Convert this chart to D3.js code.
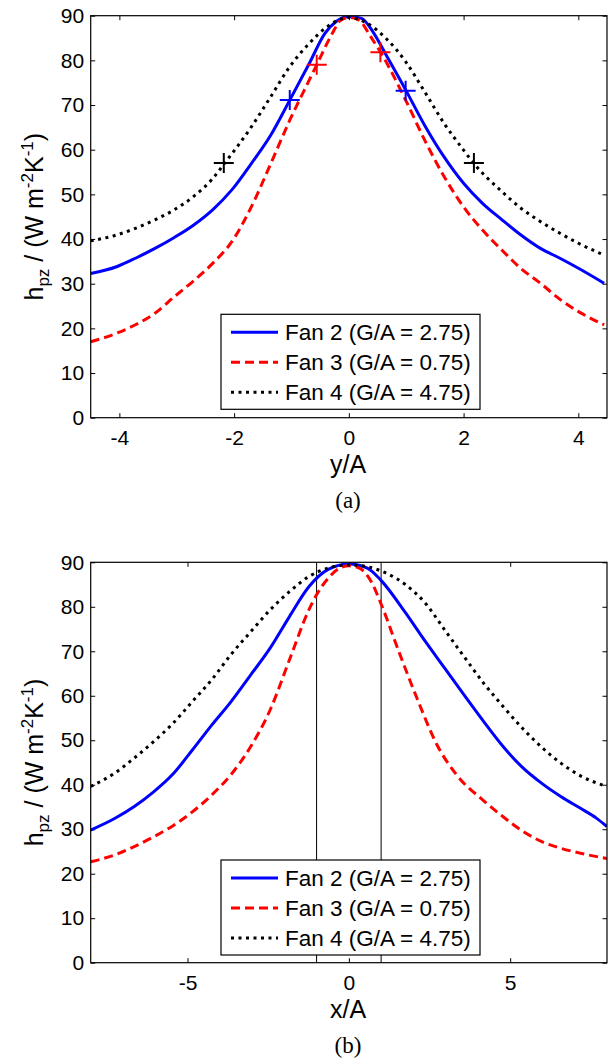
<!DOCTYPE html>
<html>
<head>
<meta charset="utf-8">
<script src="https://cdn.jsdelivr.net/npm/d3@7/dist/d3.min.js"></script>
<style>
  body { margin: 0; background: #fff; }
  text { font-family: "Liberation Sans", Arial, Helvetica, sans-serif; fill: #000; }
</style>
</head>
<body>
<svg id="chart"></svg>
<script>
const width = 608;
const height = 1064;

// tick values
const yTicks = [0, 10, 20, 30, 40, 50, 60, 70, 80, 90];
const aXTicks = [-4, -2, 0, 2, 4];
const bXTicks = [-5, 0, 5];
const legendLabels = ['Fan 2 (G/A = 2.75)', 'Fan 3 (G/A = 0.75)', 'Fan 4 (G/A = 4.75)'];

// panel (a): h vs y/A
const aFan2 = [[-4.5,32.3],[-4.05,33.8],[-3.72,35.7],[-3.38,37.9],[-3.05,40.3],[-2.71,43.1],[-2.37,46.6],[-2.04,51.0],[-1.70,56.9],[-1.36,63.3],[-1.03,71.1],[-0.69,79.3],[-0.42,86.0],[-0.22,88.7],[0,89.8],[0.22,89.4],[0.42,86.4],[0.65,81.2],[0.99,73.4],[1.32,65.5],[1.66,58.4],[2.0,52.5],[2.33,48.0],[2.67,44.3],[3.0,40.9],[3.34,37.9],[3.68,35.7],[4.01,33.4],[4.45,30.1]];
const aFan3 = [[-4.5,17.0],[-4.05,18.9],[-3.72,20.8],[-3.38,23.4],[-3.05,27.0],[-2.71,30.6],[-2.37,34.6],[-2.04,39.4],[-1.70,47.2],[-1.36,56.9],[-1.03,66.6],[-0.69,75.6],[-0.56,79.0],[-0.29,86.0],[-0.15,88.9],[0,89.6],[0.18,89.0],[0.38,85.3],[0.55,81.9],[0.99,71.1],[1.32,62.2],[1.66,54.0],[2.0,47.2],[2.33,42.0],[2.67,37.5],[3.0,33.4],[3.34,30.1],[3.68,26.5],[4.01,23.7],[4.45,20.8]];
const aFan4 = [[-4.5,39.6],[-4.05,40.9],[-3.72,42.4],[-3.38,44.3],[-3.05,46.5],[-2.71,49.5],[-2.37,53.6],[-2.17,56.9],[-1.70,65.1],[-1.36,71.9],[-1.03,78.6],[-0.69,83.8],[-0.36,87.7],[0,89.6],[0.32,88.3],[0.65,84.9],[0.99,79.7],[1.32,73.0],[1.66,65.9],[2.0,59.9],[2.18,56.9],[2.67,50.6],[3.0,46.9],[3.34,43.9],[3.68,41.3],[4.01,39.0],[4.45,36.4]];
const aFan2Marks = [[-1.03,71.1],[0.99,73.2]];
const aFan3Marks = [[-0.56,79.0],[0.55,81.8]];
const aFan4Marks = [[-2.18,57.0],[2.18,57.0]];

// panel (b): h vs x/A
const bFan2 = [[-8,29.8],[-7.26,32.4],[-6.65,35.1],[-6.05,38.4],[-5.45,42.4],[-4.85,47.8],[-4.25,53.4],[-3.65,58.7],[-3.04,64.7],[-2.44,70.7],[-1.84,77.8],[-1.24,84.5],[-0.64,88.4],[0,89.6],[0.57,88.7],[0.99,86.0],[1.77,78.5],[2.37,72.2],[2.97,66.2],[3.57,60.2],[4.18,54.2],[4.78,48.6],[5.38,43.9],[5.98,40.3],[6.58,37.3],[7.18,34.7],[7.67,32.5],[8,30.6]];
const bFan3 = [[-8,22.7],[-7.26,24.2],[-6.65,26.1],[-6.05,28.3],[-5.45,30.8],[-4.85,33.9],[-4.25,37.7],[-3.65,42.3],[-3.04,48.6],[-2.44,56.8],[-1.84,68.1],[-1.24,79.3],[-1.0,82.7],[-0.64,86.4],[-0.28,88.7],[0,89.2],[0.32,88.7],[0.69,85.7],[0.99,80.8],[1.53,70.3],[2.13,59.1],[2.73,49.0],[3.33,42.3],[4.18,36.4],[4.78,32.8],[5.38,29.6],[5.98,27.2],[6.58,25.7],[7.18,24.6],[8,23.4]];
const bFan4 = [[-8,39.6],[-7.26,42.6],[-6.65,46.0],[-6.05,49.7],[-5.45,53.8],[-4.85,58.7],[-4.25,63.6],[-3.65,69.3],[-3.04,74.4],[-2.44,79.3],[-1.84,83.4],[-1.24,86.8],[-0.64,88.7],[0,89.4],[0.57,89.0],[1.17,87.5],[1.77,84.9],[2.37,80.8],[2.97,74.8],[3.57,68.8],[4.18,62.8],[4.78,57.6],[5.38,52.7],[5.98,48.4],[6.58,44.8],[7.18,42.0],[8,39.6]];
const bGuides = [-1, 1];

// line styles
const styles = [
  { color: '#0000ff', width: 3, dash: null },
  { color: '#ff0000', width: 3, dash: '9,5' },
  { color: '#000000', width: 3, dash: '3,4.5' }
];

const svg = d3.select('#chart')
    .attr('width', width)
    .attr('height', height);

function drawPanel(cfg) {
    const x = d3.scaleLinear().domain(cfg.xDomain).range([90.7, 607]);
    const y = d3.scaleLinear().domain([0, 90]).range([cfg.bottom, cfg.top]);
    const g = svg.append('g');

    g.append('clipPath').attr('id', cfg.id + '-clip')
        .append('rect')
        .attr('x', 90.7).attr('y', cfg.top)
        .attr('width', 607 - 90.7).attr('height', cfg.bottom - cfg.top);

    // axes with inward ticks
    const left = g.append('g').attr('transform', 'translate(90.7,0)')
        .call(d3.axisLeft(y).tickValues(yTicks).tickSize(-4.5).tickPadding(6.5));
    const right = g.append('g').attr('transform', 'translate(607,0)')
        .call(d3.axisRight(y).tickValues(yTicks).tickSize(-4.5).tickFormat(''));
    const bottom = g.append('g').attr('transform', `translate(0,${cfg.bottom})`)
        .call(d3.axisBottom(x).tickValues(cfg.xTicks).tickSize(-4.5).tickPadding(12.3).tickFormat(d3.format('d')));
    const top = g.append('g').attr('transform', `translate(0,${cfg.top})`)
        .call(d3.axisTop(x).tickValues(cfg.xTicks).tickSize(-4.5).tickFormat(''));
    [left, right, bottom, top].forEach(a => {
        a.select('.domain').remove();
        a.selectAll('line').attr('stroke', '#000').attr('stroke-width', 1);
        a.selectAll('text').attr('font-size', 21).attr('fill', '#000')
            .style('font-family', '"Liberation Sans", Arial, sans-serif');
    });
    bottom.selectAll('text').text(d => d < 0 ? '-' + Math.abs(d) : d);

    // guide lines (panel b)
    (cfg.guides || []).forEach(v => {
        g.append('line')
            .attr('x1', x(v)).attr('x2', x(v))
            .attr('y1', cfg.top).attr('y2', cfg.bottom)
            .attr('stroke', '#000').attr('stroke-width', 1);
    });

    const line = d3.line()
        .x(d => x(d[0]))
        .y(d => y(d[1]))
        .curve(d3.curveMonotoneX);

    const curves = g.append('g').attr('clip-path', `url(#${cfg.id}-clip)`);
    cfg.series.forEach((s, i) => {
        curves.append('path')
            .datum(s)
            .attr('fill', 'none')
            .attr('stroke', styles[i].color)
            .attr('stroke-width', styles[i].width)
            .attr('stroke-dasharray', styles[i].dash)
            .attr('d', line);
    });

    // plus markers
    (cfg.marks || []).forEach((m, i) => {
        m.forEach(p => {
            const cx = x(p[0]), cy = y(p[1]);
            g.append('path')
                .attr('d', `M${cx - 10},${cy}H${cx + 10}M${cx},${cy - 10}V${cy + 10}`)
                .attr('stroke', styles[i].color)
                .attr('stroke-width', 2)
                .attr('fill', 'none');
        });
    });

    // frame
    g.append('rect')
        .attr('x', 90.7).attr('y', cfg.top)
        .attr('width', 607 - 90.7).attr('height', cfg.bottom - cfg.top)
        .attr('fill', 'none').attr('stroke', '#000').attr('stroke-width', 1.2);

    // legend
    const lg = g.append('g').attr('transform', `translate(221,${cfg.legendY})`);
    lg.append('rect')
        .attr('width', 259).attr('height', 95)
        .attr('fill', '#fff').attr('stroke', '#000').attr('stroke-width', 1.2);
    legendLabels.forEach((lab, i) => {
        const ry = 18 + i * 30;
        lg.append('line')
            .attr('x1', 10).attr('x2', 57)
            .attr('y1', ry).attr('y2', ry)
            .attr('stroke', styles[i].color)
            .attr('stroke-width', styles[i].width)
            .attr('stroke-dasharray', styles[i].dash);
        lg.append('text')
            .attr('x', 64).attr('y', ry)
            .attr('dominant-baseline', 'central')
            .attr('font-size', 22.5)
            .text(lab);
    });

    // y label
    const yl = g.append('text')
        .attr('transform', `translate(43,${(cfg.top + cfg.bottom) / 2}) rotate(-90)`)
        .attr('text-anchor', 'middle')
        .attr('font-size', 25);
    yl.append('tspan').text('h');
    yl.append('tspan').attr('font-size', 17).attr('dy', 6).text('pz');
    yl.append('tspan').attr('dy', -6).text(' / (W m');
    yl.append('tspan').attr('font-size', 17).attr('dy', -10).text('-2');
    yl.append('tspan').attr('dy', 10).text('K');
    yl.append('tspan').attr('font-size', 17).attr('dy', -10).text('-1');
    yl.append('tspan').attr('dy', 10).text(')');

    // x label
    g.append('text')
        .attr('x', 348).attr('y', cfg.bottom + 55)
        .attr('text-anchor', 'middle')
        .attr('font-size', 25)
        .text(cfg.xLabel);

    // caption
    g.append('text')
        .attr('x', 348).attr('y', cfg.bottom + 90)
        .attr('text-anchor', 'middle')
        .attr('font-size', 23)
        .style('font-family', '"Liberation Serif", "Times New Roman", serif')
        .text(cfg.caption);
}

drawPanel({
    id: 'a', top: 15.7, bottom: 417.7, xDomain: [-4.5, 4.5], xTicks: aXTicks,
    series: [aFan2, aFan3, aFan4], marks: [aFan2Marks, aFan3Marks, aFan4Marks],
    legendY: 314.3, xLabel: 'y/A', caption: '(a)'
});

drawPanel({
    id: 'b', top: 562.3, bottom: 962.7, xDomain: [-8, 8], xTicks: bXTicks,
    series: [bFan2, bFan3, bFan4], guides: bGuides,
    legendY: 860, xLabel: 'x/A', caption: '(b)'
});
</script>
</body>
</html>
